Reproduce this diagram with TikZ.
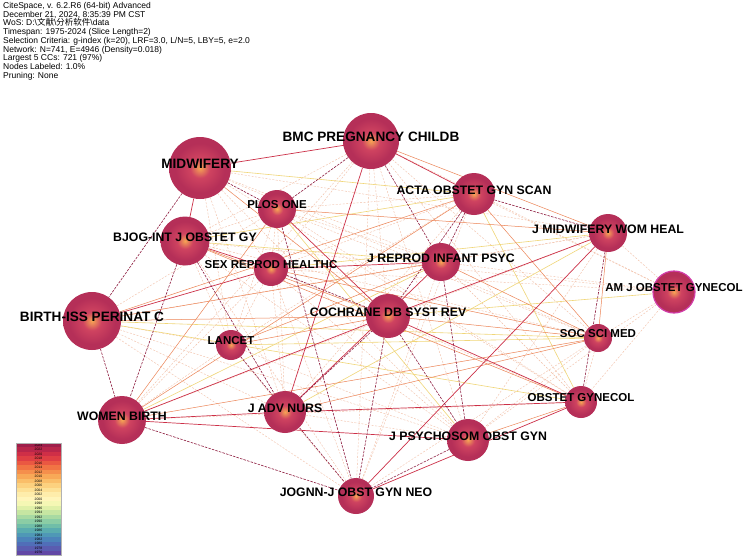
\documentclass[tikz,border=0pt]{standalone}
\usepackage{fontspec}
\setmainfont{Liberation Sans}
\newfontfamily\cjk{Noto Sans CJK SC}
\usetikzlibrary{positioning,backgrounds}
\definecolor{nodeOut}{HTML}{B52F58}
\definecolor{nodeMid}{HTML}{CF4360}
\definecolor{nodeCore}{HTML}{F6A454}
\definecolor{linkDark}{HTML}{8E1D40}
\definecolor{linkRed}{HTML}{CC3048}
\definecolor{linkOrange}{HTML}{EC8456}
\definecolor{linkYellow}{HTML}{F0D678}
\definecolor{linkPale}{HTML}{F2BFA6}
\definecolor{ringPink}{HTML}{D13CA8}
\pgfdeclareradialshading{ringfill}{\pgfpoint{0bp}{0bp}}{color(0bp)=(nodeCore); color(8bp)=(nodeMid); color(20bp)=(nodeOut); color(25bp)=(nodeOut); color(50bp)=(nodeOut)}

\begin{document}
\begin{tikzpicture}[x=1pt,y=-1pt]
  \tikzstyle{journal}=[circle,shading=ringfill,inner sep=0pt]
  \tikzstyle{tag}=[inner sep=0pt,font=\bfseries\fontsize{12.3}{13}\selectfont]
  \tikzstyle{bigtag}=[tag,font=\bfseries\fontsize{13.6}{14}\selectfont]
  \tikzstyle{smalltag}=[tag,font=\bfseries\fontsize{11.5}{12}\selectfont]
  \tikzstyle{lnkdark}=[linkDark,line width=0.6pt,dash pattern=on 2.5pt off 1.2pt]
  \tikzstyle{lnkred}=[linkRed,line width=0.7pt]
  \tikzstyle{lnkorange}=[linkOrange,line width=0.5pt]
  \tikzstyle{lnkyellow}=[linkYellow,line width=0.6pt]
  \tikzstyle{lnkpale}=[linkPale,line width=0.4pt,dash pattern=on 2pt off 1.5pt]
  \tikzstyle{yeartag}=[inner sep=0pt,font=\fontsize{3.4}{3.4}\selectfont]
  \useasboundingbox (0,0) rectangle (753,560);

  % run info
  \node[anchor=north west,align=left,inner sep=0pt,
    font=\fontsize{8.5}{8.75}\selectfont] (info) at (3,2)
    {CiteSpace, v. 6.2.R6 (64-bit) Advanced\\
     December 21, 2024, 8:35:39 PM CST\\
     WoS: D:\textbackslash{\cjk 文献}\textbackslash{\cjk 分析软件}\textbackslash data\\
     Timespan: 1975-2024 (Slice Length=2)\\
     Selection Criteria: g-index (k=20), LRF=3.0, L/N=5, LBY=5, e=2.0\\
     Network: N=741, E=4946 (Density=0.018)\\
     Largest 5 CCs: 721 (97\%)\\
     Nodes Labeled: 1.0\%\\
     Pruning: None};

  % journals
  \node[journal,minimum size=62pt] (mid) at (200,168) {};
  \node[journal,minimum size=56pt] (bmc) at (371,141) {};
  \node[journal,minimum size=42pt] (acta) at (474,194) {};
  \node[journal,minimum size=38pt] (jmw) at (608,233) {};
  \node[journal,minimum size=42pt,draw=ringPink,line width=1.2pt] (amj) at (674,292) {};
  \node[journal,minimum size=38pt] (plos) at (277,209) {};
  \node[journal,minimum size=49pt] (bjog) at (185,241) {};
  \node[journal,minimum size=34pt] (sex) at (271,269) {};
  \node[journal,minimum size=38pt] (jrip) at (441,262) {};
  \node[journal,minimum size=58pt] (birth) at (92,321) {};
  \node[journal,minimum size=44pt] (coch) at (388,316) {};
  \node[journal,minimum size=30pt] (lancet) at (231,345) {};
  \node[journal,minimum size=28pt] (soc) at (598,338) {};
  \node[journal,minimum size=48pt] (women) at (122,420) {};
  \node[journal,minimum size=42pt] (jadv) at (285,412) {};
  \node[journal,minimum size=32pt] (obg) at (581,402) {};
  \node[journal,minimum size=42pt] (jpsy) at (468,440) {};
  \node[journal,minimum size=36pt] (jognn) at (356,496) {};

  % co-citation links
  \begin{pgfonlayer}{background}
  \fill[white] (0,0) rectangle (753,560);
  \foreach \a/\b in {mid/sex,mid/lancet,mid/jadv,mid/jrip,bmc/sex,bmc/coch,bmc/amj,
      bmc/soc,bmc/jognn,bmc/jpsy,bmc/women,bmc/bjog,acta/amj,acta/plos,acta/sex,
      acta/jadv,acta/jognn,jmw/amj,jmw/jrip,jmw/jpsy,amj/soc,amj/obg,amj/jrip,
      amj/jpsy,amj/sex,plos/sex,plos/lancet,plos/jadv,plos/soc,plos/obg,bjog/plos,
      bjog/lancet,bjog/jognn,bjog/jpsy,sex/lancet,sex/jadv,sex/jpsy,sex/obg,
      sex/jognn,jrip/obg,birth/lancet,birth/jadv,birth/jpsy,birth/plos,birth/jognn,
      lancet/jadv,lancet/jpsy,lancet/women,soc/obg,soc/jpsy,soc/jognn,women/sex,
      women/obg,jadv/jpsy,jadv/jognn,mid/soc,mid/jpsy,bmc/obg,acta/lancet,
      mid/jmw,mid/obg,bjog/soc,bjog/amj,birth/jmw,women/jmw,plos/jrip,jrip/jognn}
    \draw[lnkpale] (\a) -- (\b);
  \foreach \a/\b in {birth/soc,bjog/jrip,plos/jpsy,lancet/soc,jadv/jmw,women/jrip,
      acta/obg,coch/amj,mid/acta,birth/obg,sex/jmw,bjog/acta}
    \draw[lnkyellow] (\a) -- (\b);
  \foreach \a/\b in {birth/coch,birth/jrip,bjog/coch,jmw/soc,bmc/jmw,acta/soc,sex/soc,
      coch/soc,plos/jmw,jadv/soc,women/soc,bjog/obg,jrip/soc,jpsy/obg,mid/coch,
      women/plos,lancet/coch,birth/acta,lancet/jrip,women/acta}
    \draw[lnkorange] (\a) -- (\b);
  \foreach \a/\b in {mid/bmc,women/jadv,women/jpsy,women/coch,bjog/sex,plos/coch,
      jadv/jrip,sex/jrip,bmc/acta,jmw/coch,jmw/jognn,birth/sex,bmc/jadv,coch/obg,
      jadv/obg,jognn/obg,mid/bjog}
    \draw[lnkred] (\a) -- (\b);
  \foreach \a/\b in {mid/birth,birth/women,women/jognn,acta/jmw,jadv/coch,jrip/acta,
      bmc/jrip,coch/jognn,jpsy/jognn,bmc/plos,mid/plos,sex/coch,coch/jpsy,bjog/jadv,
      bjog/women,jmw/obg,acta/coch,jrip/jpsy,plos/jognn,lancet/jognn}
    \draw[lnkdark] (\a) -- (\b);
  \end{pgfonlayer}

  % labels
  \foreach \n/\t in {mid/MIDWIFERY,bmc/BMC PREGNANCY CHILDB,birth/BIRTH-ISS PERINAT C}
    \node[bigtag] (\n-tag) at ([yshift=4pt]\n.center) {\t};
  \foreach \n/\t in {acta/ACTA OBSTET GYN SCAN,jmw/J MIDWIFERY WOM HEAL,
      bjog/BJOG-INT J OBSTET GY,jrip/J REPROD INFANT PSYC,coch/COCHRANE DB SYST REV,
      women/WOMEN BIRTH,jadv/J ADV NURS,jpsy/J PSYCHOSOM OBST GYN,
      jognn/JOGNN-J OBST GYN NEO}
    \node[tag] (\n-tag) at ([yshift=4pt]\n.center) {\t};
  \foreach \n/\t in {amj/AM J OBSTET GYNECOL,plos/PLOS ONE,sex/SEX REPROD HEALTHC,
      lancet/LANCET,soc/SOC SCI MED,obg/OBSTET GYNECOL}
    \node[smalltag] (\n-tag) at ([yshift=4pt]\n.center) {\t};

  % year legend
  \foreach \c [count=\i] in {9E1F4A,B8264A,CF2F47,DF3F44,EA5842,F17444,F58F4C,F8A957,
      FABE69,FCD17F,FDE196,FEEDAB,FFF5BA,F5F7B4,E0F0A8,C6E6A2,A8DAA2,8BCDA5,70BEA8,
      5AACAF,4F98B6,4C83BA,506EB8,5A5CB0,6248A5}{
    \definecolor{slice}{HTML}{\c}
    \fill[slice] (16,{443+(\i-1)*4.48}) rectangle (61,{443+\i*4.48});
    \pgfmathtruncatemacro\yr{2026-2*\i}
    \node[yeartag] (yr\i) at (38.5,{443+(\i-0.5)*4.48}) {\yr};
  }
  \draw[gray!60,line width=0.3pt] (16,443) rectangle (61,555);
\end{tikzpicture}
\end{document}
